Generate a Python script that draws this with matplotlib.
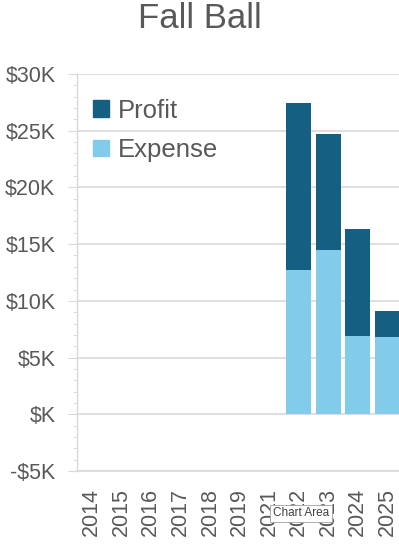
import matplotlib
matplotlib.use("Agg")
import matplotlib.pyplot as plt
import numpy as np
from matplotlib.ticker import MultipleLocator, FuncFormatter
from matplotlib.patches import Patch

categories = ["2014", "2015", "2016", "2017", "2018", "2019", "2021", "2022", "2023", "2024", "2025"]
expense = [0, 0, 0, 0, 0, 0, 0, 12.75, 14.5, 6.9, 6.8]   # $K
profit = [0, 0, 0, 0, 0, 0, 0, 14.7, 10.2, 9.4, 2.3]     # $K

c_profit = "#156082"
c_expense = "#83CBEB"
txt = "#595959"
grid_c = "#D9D9D9"

plt.rcParams["font.family"] = ["Liberation Sans", "DejaVu Sans"]

fig = plt.figure(figsize=(3.99, 5.5), dpi=100)
ax = fig.add_axes([77/399, 1-471/550, (402-77)/399, (471-74)/550])

x = np.arange(len(categories))
ax.bar(x, expense, width=0.85, color=c_expense, zorder=3)
ax.bar(x, profit, width=0.85, bottom=expense, color=c_profit, zorder=3)

ax.set_xlim(-0.5, len(categories) - 0.5)
ax.set_ylim(-5, 30)
ax.yaxis.set_major_locator(MultipleLocator(5))
ax.yaxis.set_minor_locator(MultipleLocator(1))

def fmt(v, pos):
    v = int(round(v))
    if v == 0:
        return "$K"
    if v < 0:
        return f"-${-v}K"
    return f"${v}K"

ax.yaxis.set_major_formatter(FuncFormatter(fmt))
ax.grid(axis="y", which="major", color=grid_c, linewidth=1.2, zorder=0)
ax.set_axisbelow(True)

for s in ["top", "right"]:
    ax.spines[s].set_visible(False)
ax.spines["left"].set_color(grid_c)
ax.spines["bottom"].set_color(grid_c)
ax.spines["left"].set_linewidth(1.0)
ax.spines["bottom"].set_linewidth(1.2)

ax.tick_params(axis="y", which="major", length=6.5, color=grid_c, labelsize=15.5, labelcolor=txt, pad=9)
ax.tick_params(axis="y", which="minor", length=3, color=grid_c)
ax.set_xticks(x)
ax.set_xticklabels(categories, rotation=90)
ax.tick_params(axis="x", length=0, labelsize=15.5, labelcolor=txt, pad=12)

fig.text(0.5, 1-18.5/550, "Fall Ball", ha="center", va="center", fontsize=25, color=txt)

handles = [Patch(color=c_profit, label="Profit"), Patch(color=c_expense, label="Expense")]
leg = ax.legend(handles=handles, loc="upper left", bbox_to_anchor=(0.003, 0.977),
                frameon=False, fontsize=18.5, labelcolor=txt,
                handlelength=0.62, handleheight=0.62, handletextpad=0.32,
                labelspacing=0.6, borderaxespad=0.2)

# UI tooltip overlay present in the screenshot
fig.text(301/399, 1-513.5/550, "Chart Area", ha="center", va="center", fontsize=8.5, color="#404040",
         bbox=dict(boxstyle="square,pad=0.25", fc="white", ec="#A0A0A0", lw=0.6), zorder=10)

fig.savefig("out.png", dpi=100)
